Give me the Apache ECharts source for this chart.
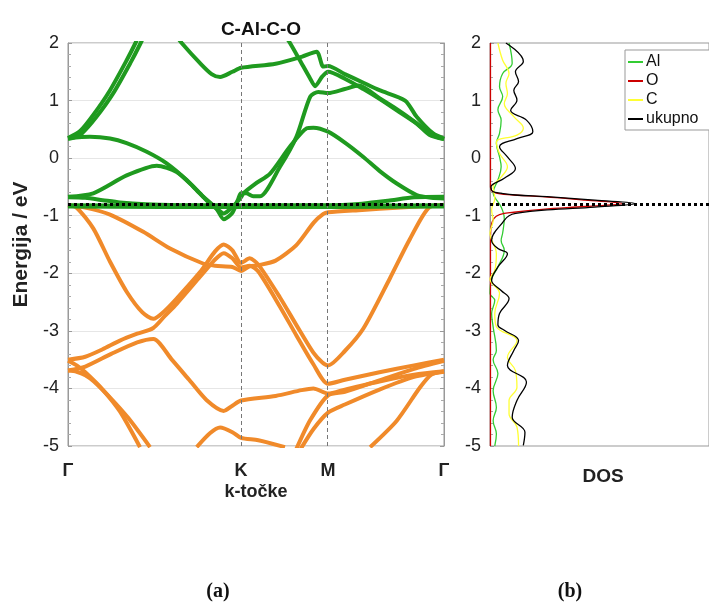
<!DOCTYPE html>
<html>
<head>
<meta charset="utf-8">
<script src="https://cdn.jsdelivr.net/npm/echarts@6/dist/echarts.min.js"></script>
<style>html,body{margin:0;padding:0;background:#fff}#c{width:709px;height:606px}</style>
</head>
<body>
<div id="c"></div>
<script>
// ---- k-path (Γ=0, K=1) ----
const kTicks = [0, 1.0, 1.503, 2.173];
const kLabels = ['Γ', 'K', 'M', 'Γ'];
const fermi = -0.8;
const energyTicks = [-5, -4, -3, -2, -1, 0, 1, 2];

// ---- conduction bands (green) [k, E] ----
const bandA = [[0,0.35],[0.07,0.47],[0.146,0.75],[0.243,1.18],[0.339,1.70],[0.39,2.0],[0.42,2.2]];
const bandB = [[0,0.33],[0.03,0.35],[0.08,0.43],[0.16,0.70],[0.26,1.12],[0.36,1.65],[0.42,2.0],[0.45,2.2]];
const bandC = [[0,0.35],[0.127,0.37],[0.243,0.34],[0.339,0.26],[0.455,0.11],[0.57,-0.09],[0.686,-0.38],[0.782,-0.67],[0.859,-0.88],[0.9,-1.06],[0.95,-0.95],[0.985,-0.7],[1.0,-0.61],[1.03,-0.61],[1.07,-0.66],[1.11,-0.66],[1.225,-0.15],[1.32,0.37],[1.40,1.07],[1.447,1.15],[1.503,1.13],[1.6,1.2],[1.68,1.26],[1.8,1.04],[1.9,0.85],[2.0,0.64],[2.1,0.41],[2.173,0.33]];
const bandD = [[0,-0.67],[0.146,-0.61],[0.339,-0.30],[0.513,-0.13],[0.628,-0.24],[0.725,-0.50],[0.8,-0.73],[0.86,-0.88],[0.9,-0.96],[0.95,-0.85],[1.0,-0.68],[1.014,-0.61],[1.08,-0.45],[1.168,-0.27],[1.283,0.2],[1.38,0.52],[1.418,0.53],[1.503,0.46],[1.6,0.27],[1.707,0.02],[1.8,-0.22],[1.9,-0.44],[2.015,-0.64],[2.1,-0.69],[2.173,-0.7]];
const bandE = [[0.62,2.15],[0.657,2.0],[0.763,1.65],[0.83,1.46],[0.879,1.41],[0.95,1.5],[1.0,1.57],[1.2,1.64],[1.35,1.76],[1.437,1.85],[1.475,1.59],[1.503,1.6],[1.6,1.46],[1.707,1.31],[1.8,1.18],[1.948,1.0],[2.015,0.72],[2.11,0.43],[2.173,0.34]];
const bandG = [[1.25,2.15],[1.283,2.0],[1.34,1.70],[1.40,1.38],[1.428,1.25],[1.47,1.42],[1.503,1.5],[1.6,1.38],[1.707,1.2],[1.8,1.03],[1.9,0.83],[2.015,0.6],[2.09,0.40],[2.173,0.33]];
const bandJ = [[0,-0.68],[0.1,-0.69],[0.2,-0.73],[0.3,-0.77],[0.45,-0.8],[0.7,-0.82],[1.2,-0.82],[1.503,-0.82],[1.7,-0.79],[1.85,-0.74],[2.0,-0.68],[2.173,-0.67]];
const bandFlat1 = [[0,-0.82],[1.0,-0.83],[2.173,-0.82]];
const bandFlat2 = [[0,-0.84],[1.0,-0.85],[2.173,-0.84]];

// ---- valence bands (orange) [k, E] ----
const bandO1 = [[0,-0.82],[0.05,-0.86],[0.146,-1.22],[0.243,-1.8],[0.339,-2.32],[0.43,-2.68],[0.493,-2.79],[0.56,-2.65],[0.628,-2.44],[0.763,-1.98],[0.85,-1.62],[0.9,-1.5],[0.95,-1.6],[1.0,-1.82],[1.05,-1.74],[1.1,-1.85],[1.225,-2.42],[1.32,-2.9],[1.418,-3.38],[1.47,-3.55],[1.503,-3.6],[1.6,-3.35],[1.707,-2.96],[1.86,-2.09],[1.977,-1.40],[2.09,-0.85],[2.173,-0.82]];
const bandO2 = [[0,-0.82],[0.1,-0.86],[0.243,-0.98],[0.435,-1.28],[0.59,-1.57],[0.78,-1.83],[0.85,-1.87],[0.95,-1.89],[1.0,-1.96],[1.05,-1.88],[1.1,-1.86],[1.2,-1.78],[1.32,-1.51],[1.42,-1.12],[1.476,-0.97],[1.503,-0.94],[1.7,-0.9],[1.9,-0.86],[2.09,-0.83],[2.173,-0.82]];
const bandO3 = [[0,-3.5],[0.1,-3.45],[0.2,-3.32],[0.3,-3.17],[0.4,-3.05],[0.493,-2.95],[0.56,-2.74],[0.628,-2.53],[0.763,-2.06],[0.85,-1.76],[0.9,-1.65],[0.95,-1.74],[1.0,-1.9],[1.05,-1.87],[1.1,-1.97],[1.225,-2.58],[1.32,-3.08],[1.418,-3.58],[1.503,-3.92],[1.6,-3.85],[1.8,-3.72],[2.0,-3.6],[2.173,-3.5]];
const bandO4 = [[0,-3.69],[0.1,-3.62],[0.25,-3.4],[0.4,-3.2],[0.493,-3.14],[0.6,-3.5],[0.7,-3.85],[0.8,-4.2],[0.9,-4.39],[0.95,-4.3],[1.0,-4.21],[1.2,-4.13],[1.35,-4.03],[1.418,-4.0],[1.503,-4.09],[1.6,-4.02],[1.8,-3.88],[2.0,-3.76],[2.173,-3.7]];
const bandO5 = [[1.32,-5.05],[1.4,-4.55],[1.503,-4.12],[1.6,-4.06],[1.8,-3.86],[2.0,-3.66],[2.173,-3.52]];
const bandO6 = [[1.345,-5.05],[1.42,-4.7],[1.503,-4.42],[1.6,-4.28],[1.8,-4.02],[2.0,-3.8],[2.173,-3.71]];
const bandO7 = [[1.746,-5.02],[1.9,-4.56],[2.035,-3.98],[2.1,-3.76],[2.173,-3.7]];
const bandO8 = [[0.744,-5.02],[0.82,-4.78],[0.879,-4.68],[0.95,-4.76],[1.0,-4.86],[1.1,-4.9],[1.254,-5.02]];
const bandS1 = [[0,-3.52],[0.05,-3.6],[0.1,-3.72],[0.2,-4.02],[0.3,-4.4],[0.416,-5.02]];
const bandS2 = [[0,-3.69],[0.05,-3.71],[0.1,-3.77],[0.15,-3.88],[0.25,-4.18],[0.35,-4.52],[0.474,-5.02]];

// ---- DOS [value, E] ----
const dosAl = [[2.0,2.0],[2.33,1.65],[1.33,1.47],[1.0,1.24],[1.33,1.07],[0.83,0.84],[1.17,0.66],[1.0,0.43],[0.67,0.26],[1.0,0.02],[1.17,-0.15],[0.83,-0.38],[0.33,-0.6],[0.5,-0.68],[1.17,-0.85],[1.5,-1.05],[1.33,-1.3],[1.17,-1.43],[1.5,-1.6],[0.83,-1.89],[0.17,-2.1],[0,-2.35],[0.5,-2.47],[0.17,-2.7],[0.33,-2.93],[0.67,-3.34],[0.33,-3.5],[0.83,-3.74],[0.33,-4.04],[0.67,-4.33],[0.33,-4.56],[0.67,-4.79],[0.5,-5.0]];
const dosO = [[0.05,2.0],[0.05,-0.5],[0.5,-0.6],[2.5,-0.64],[5.5,-0.67],[10,-0.73],[14,-0.79],[10,-0.84],[5.5,-0.89],[2.5,-0.94],[1.0,-0.98],[0.4,-1.05],[0.1,-1.2],[0.05,-1.5],[0.05,-5.0]];
const dosC = [[0.83,2.0],[1.33,1.7],[2.0,1.47],[1.67,1.3],[1.83,1.12],[1.5,0.95],[2.5,0.72],[3.5,0.52],[2.83,0.4],[0.67,0.28],[1.0,0.08],[1.83,-0.15],[1.17,-0.33],[0.33,-0.5],[0.5,-0.7],[0.17,-0.9],[0.33,-1.08],[0,-1.3],[0.67,-1.66],[0.5,-1.95],[0,-2.1],[1.0,-2.35],[0.5,-2.7],[0.67,-2.93],[2.83,-3.17],[1.83,-3.46],[2.67,-3.69],[2.83,-3.98],[2.0,-4.21],[2.0,-4.44],[2.83,-4.67],[3.0,-5.0]];
const dosTotal = [[1.67,2.0],[3.5,1.68],[2.67,1.5],[3.0,1.33],[2.5,1.18],[2.83,1.01],[2.17,0.83],[3.83,0.66],[4.5,0.46],[2.83,0.34],[1.0,0.2],[1.83,0.02],[2.67,-0.18],[1.5,-0.35],[0.1,-0.5],[0.3,-0.58],[1.2,-0.61],[2.7,-0.64],[6,-0.67],[11,-0.73],[15.3,-0.79],[11,-0.85],[6,-0.9],[2.7,-0.96],[2.0,-1.0],[1.5,-1.08],[0.17,-1.43],[0.83,-1.57],[1.83,-1.66],[0.83,-1.89],[0.17,-2.12],[1.17,-2.3],[2.0,-2.44],[1.0,-2.7],[0.83,-2.9],[1.5,-2.99],[3.0,-3.17],[2.5,-3.34],[1.83,-3.6],[3.83,-3.89],[2.83,-4.21],[2.33,-4.5],[3.67,-4.76],[3.5,-4.99]];

const GREEN = '#1f9a1f', ORANGE = '#f08a2a';
const greenBands = [bandA, bandB, bandC, bandD, bandE, bandG, bandJ, bandFlat1, bandFlat2];
const orangeBands = [bandO1, bandO2, bandO3, bandO4, bandO5, bandO6, bandO7, bandO8, bandS1, bandS2];

const FONT = 'Liberation Sans, Arial, sans-serif';
const chart = echarts.init(document.getElementById('c'), null, {renderer: 'canvas'});

function bandSeries(d, color) {
  return {type: 'line', xAxisIndex: 0, yAxisIndex: 0, data: d, showSymbol: false, symbol: 'none',
    smooth: 0.25, lineStyle: {color: color, width: 4}, silent: true, z: 3, clip: true};
}

const series = [];
orangeBands.forEach(d => series.push(bandSeries(d, ORANGE)));
greenBands.forEach(d => series.push(bandSeries(d, GREEN)));
// K/M dashed lines and Fermi level on band plot
series.push({type: 'line', xAxisIndex: 0, yAxisIndex: 0, data: [], silent: true,
  markLine: {silent: true, symbol: 'none', label: {show: false}, animation: false,
    data: [
      {xAxis: kTicks[1], lineStyle: {color: '#777', type: [4, 3], width: 1}},
      {xAxis: kTicks[2], lineStyle: {color: '#777', type: [4, 3], width: 1}}
    ]}, z: 1});
series.push({type: 'line', xAxisIndex: 0, yAxisIndex: 0, data: [], silent: true, z: 10,
  markLine: {silent: true, symbol: 'none', label: {show: false}, animation: false, z: 10,
    data: [{yAxis: fermi, lineStyle: {color: '#000', type: [3, 3], width: 3}}]}});
// DOS
const dosDefs = [['Al', dosAl, '#33cc33'], ['O', dosO, '#cc0000'], ['C', dosC, '#ffff33'], ['ukupno', dosTotal, '#000000']];
dosDefs.forEach(([name, d, col]) => series.push({name: name, type: 'line', xAxisIndex: 1, yAxisIndex: 2, data: d,
  showSymbol: false, symbol: 'none', smooth: 0.4, lineStyle: {color: col, width: 1.3}, itemStyle: {color: col}, z: 3}));
series.push({type: 'line', xAxisIndex: 1, yAxisIndex: 2, data: [], silent: true, z: 10,
  markLine: {silent: true, symbol: 'none', label: {show: false}, animation: false,
    data: [{yAxis: fermi, lineStyle: {color: '#000', type: [3, 3], width: 3}}]}});

const yCommon = {type: 'value', min: -5, max: 2, interval: 1,
  axisLine: {show: true, lineStyle: {color: '#999'}},
  axisTick: {show: true, inside: true, length: 4, lineStyle: {color: '#999'}},
  minorTick: {show: true, splitNumber: 5, length: 3, lineStyle: {color: '#aaa'}},
  axisLabel: {fontSize: 18, color: '#222', fontFamily: FONT, margin: 9}};

chart.setOption({
  animation: false,
  backgroundColor: '#fff',
  title: {text: 'C-Al-C-O', left: 256, top: 15, textAlign: 'center',
    textStyle: {fontSize: 19, fontWeight: 'bold', color: '#111', fontFamily: FONT}},
  legend: {data: dosDefs.map(d => ({name: d[0], icon: 'rect'})), orient: 'vertical', left: 625, top: 50,
    itemWidth: 15, itemHeight: 2, itemGap: 3, padding: [4, 14, 3, 3], borderColor: '#999', borderWidth: 1,
    backgroundColor: '#fff', textStyle: {fontSize: 16, color: '#111', fontFamily: FONT, padding: [0, 0, 0, -2]}},
  grid: [
    {left: 68, top: 43, width: 376, height: 403, show: true, borderColor: '#999', borderWidth: 1, backgroundColor: 'transparent'},
    {left: 490, top: 43, width: 230, height: 403, show: true, borderColor: '#999', borderWidth: 1, backgroundColor: 'transparent'}
  ],
  xAxis: [
    {type: 'value', gridIndex: 0, min: kTicks[0], max: kTicks[3],
      axisLine: {show: false}, axisTick: {show: false}, splitLine: {show: false},
      axisLabel: {show: true, customValues: kTicks, fontSize: 18, fontWeight: 'bold', color: '#222', fontFamily: FONT, margin: 16,
        formatter: v => { const i = kTicks.findIndex(t => Math.abs(t - v) < 1e-6); return i >= 0 ? kLabels[i] : ''; }}},
    {type: 'value', gridIndex: 1, min: 0, max: 23,
      axisLine: {show: false}, axisTick: {show: false}, splitLine: {show: false}, axisLabel: {show: false}}
  ],
  yAxis: [
    Object.assign({}, yCommon, {gridIndex: 0, position: 'left',
      name: 'Energija / eV', nameLocation: 'middle', nameGap: 34,
      nameTextStyle: {fontSize: 21, fontWeight: 'bold', color: '#222', fontFamily: FONT},
      splitLine: {show: true, lineStyle: {color: '#e6e6e6', width: 1}}}),
    Object.assign({}, yCommon, {gridIndex: 0, position: 'right', axisLabel: {show: false}, splitLine: {show: false}}),
    Object.assign({}, yCommon, {gridIndex: 1, position: 'left', splitLine: {show: false}})
  ],
  graphic: [
    {type: 'text', style: {text: 'k-točke', x: 256, y: 492, align: 'center', verticalAlign: 'middle',
      font: 'bold 18px ' + FONT, fill: '#222'}},
    {type: 'text', style: {text: 'DOS', x: 603, y: 477, align: 'center', verticalAlign: 'middle', font: 'bold 19px ' + FONT, fill: '#222'}},
    {type: 'text', style: {text: '(a)', x: 218, y: 592, align: 'center', verticalAlign: 'middle', font: 'bold 20px Liberation Serif, Times New Roman, serif', fill: '#111'}},
    {type: 'text', style: {text: '(b)', x: 570, y: 592, align: 'center', verticalAlign: 'middle', font: 'bold 20px Liberation Serif, Times New Roman, serif', fill: '#111'}}
  ],
  series: series
});
</script>
</body>
</html>
